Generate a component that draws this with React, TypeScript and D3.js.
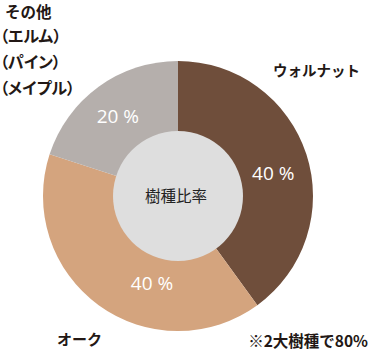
import React from "react";
import * as d3 from "d3";

const species = ["ウォルナット", "オーク", "その他"];
const shares = [40, 40, 20];
const colors = ["#6f4e3b", "#d4a47e", "#b5afac"];
const otherLines = ["その他", "（エルム）", "（パイン）", "（メイプル）"];
const centerTitle = "樹種比率";
const footnote = "※2大樹種で80%";

const W = 368;
const H = 351;
const cx = 178;
const cy = 196;
const R = 135;
const innerR = 65;

// label placement nudges (angle in degrees, radius)
const labelNudge = [
  { da: 4.5, r: 98 },
  { da: -19.4, r: 91 },
  { da: -1, r: 100 },
];

const jp = "'Noto Sans CJK JP', 'Noto Sans', sans-serif";

export default function App() {
  const pie = d3
    .pie<number>()
    .sort(null)
    .value((d) => d)
    .startAngle(0)
    .endAngle(2 * Math.PI);
  const arcs = pie(shares);
  const arc = d3.arc<d3.PieArcDatum<number>>().innerRadius(0).outerRadius(R);

  return (
    <svg
      width={W}
      height={H}
      style={{ position: "absolute", left: 0, top: 0, background: "#fff" }}
    >
      <g transform={`translate(${cx},${cy})`}>
        {arcs.map((a, i) => (
          <path key={i} d={arc(a) || ""} fill={colors[i]} />
        ))}
        <circle r={innerR} fill="#dedede" />
        {arcs.map((a, i) => {
          const mid = (a.startAngle + a.endAngle) / 2 + (labelNudge[i].da * Math.PI) / 180;
          const r = labelNudge[i].r;
          const x = Math.sin(mid) * r;
          const y = -Math.cos(mid) * r;
          return (
            <text
              key={i}
              x={x}
              y={y}
              textAnchor="middle"
              dominantBaseline="central"
              fill="#fff"
              fontFamily="'Open Sans', sans-serif"
              fontSize={19}
            >
              {`${a.data} %`}
            </text>
          );
        })}
        <text
          x={-2}
          y={-1}
          textAnchor="middle"
          dominantBaseline="central"
          fill="#222"
          fontFamily={jp}
          fontSize={15.5}
        >
          {centerTitle}
        </text>
      </g>
      <text
        x={273}
        y={69}
        dominantBaseline="central"
        fill="#231815"
        fontFamily={jp}
        fontWeight="bold"
        fontSize={14.5}
      >
        {species[0]}
      </text>
      <text
        x={57}
        y={338}
        dominantBaseline="central"
        fill="#231815"
        fontFamily={jp}
        fontWeight="bold"
        fontSize={15}
      >
        {species[1]}
      </text>
      {otherLines.map((t, i) => (
        <text
          key={i}
          x={i === 0 ? 5 : 0}
          y={i === 0 ? 11 : 9 + i * 26}
          dominantBaseline="central"
          fill="#231815"
          fontFamily={jp}
          fontWeight="bold"
          fontSize={i === 0 ? 15.5 : 16}
          style={i === 0 ? undefined : { fontFeatureSettings: "'palt' 1" }}
        >
          {t}
        </text>
      ))}
      <text
        x={368}
        y={340}
        textAnchor="end"
        dominantBaseline="central"
        fill="#231815"
        fontFamily={jp}
        fontWeight="bold"
        fontSize={15.5}
      >
        {footnote}
      </text>
    </svg>
  );
}
